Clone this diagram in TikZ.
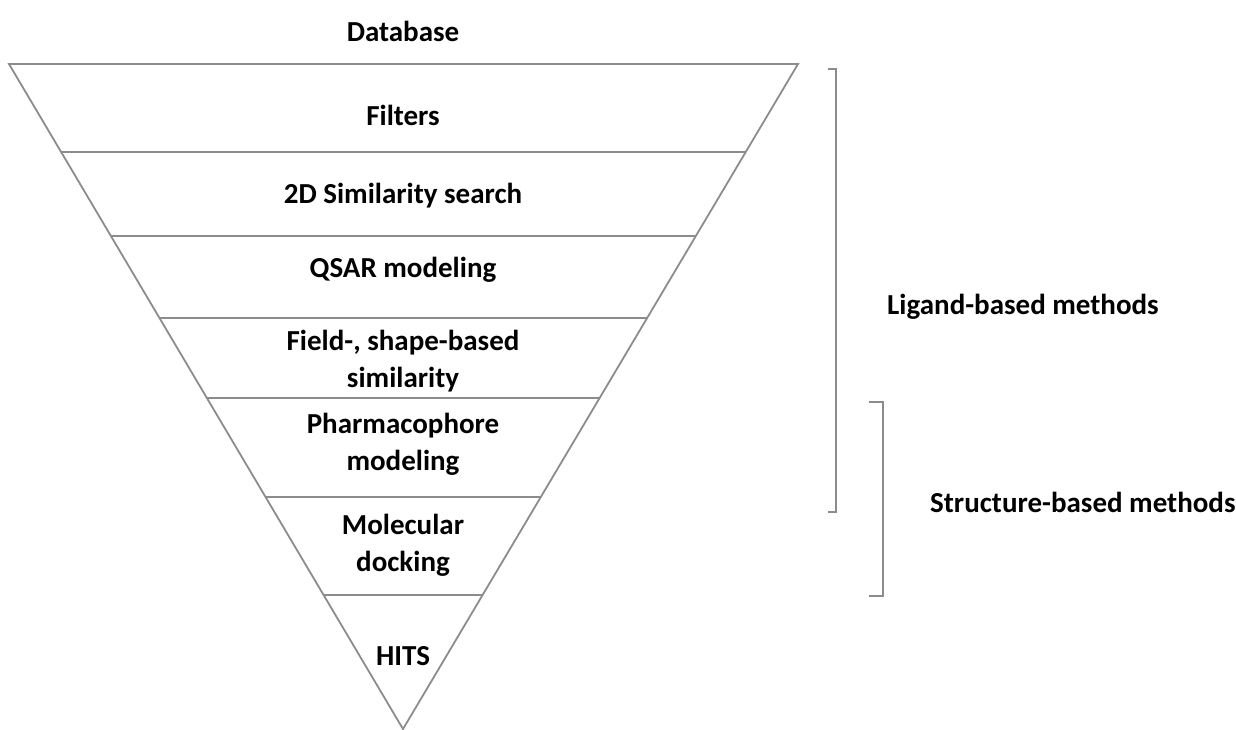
\documentclass[tikz,border=0pt]{standalone}
\usepackage{fontspec}
\setmainfont{Carlito}
\usetikzlibrary{calc}
\definecolor{edge}{RGB}{140,140,140}
\tikzset{
  edgeline/.style={draw=edge, line width=1.8pt, line join=miter},
  lbl/.style={font=\bfseries\fontsize{29}{37}\selectfont, align=center, text=black, inner sep=0pt},
}
\begin{document}
\begin{tikzpicture}[x=1pt,y=-1pt]
\useasboundingbox (0,0) rectangle (1236,729);
\coordinate (TL) at (9,64);
\coordinate (TR) at (798,64);
\coordinate (AP) at (403,729);
\draw[edgeline] (TL) -- (TR) -- (AP) -- cycle;
\foreach \n/\y in {1/152,2/236,3/318,4/398,5/497,6/595}{
  \pgfmathsetmacro{\t}{(\y-64)/665}
  \coordinate (L\n) at ($(TL)!\t!(AP)$);
  \coordinate (R\n) at ($(TR)!\t!(AP)$);
  \draw[edgeline] (L\n) -- (R\n);
}
\node[lbl] (db) at (403,31) {Database};
\node[lbl] (f) at (403,115) {Filters};
\node[lbl] (s2d) at (403,196) {2D Similarity search};
\node[lbl] (q) at (403,270) {QSAR modeling};
\node[lbl] (fs) at (403,361) {Field-, shape-based\\similarity};
\node[lbl] (ph) at (403,444) {Pharmacophore\\modeling};
\node[lbl] (md) at (403,545) {Molecular\\docking};
\node[lbl] (hits) at (403,656) {HITS};
\coordinate (b1t) at (828,69);
\coordinate (b1b) at (828,512);
\draw[edgeline] (b1t) -- ++(8,0) |- (b1b);
\coordinate (b2t) at (869,402);
\coordinate (b2b) at (869,596);
\draw[edgeline] (b2t) -- ++(14,0) |- (b2b);
\node[lbl, anchor=west] (lig) at (887,307) {Ligand-based methods};
\node[lbl, anchor=west] (str) at (930,502) {Structure-based methods};
\end{tikzpicture}
\end{document}
